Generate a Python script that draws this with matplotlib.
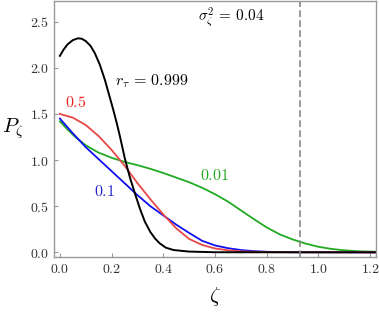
import numpy as np
import matplotlib
matplotlib.use('Agg')
import matplotlib.pyplot as plt

plt.rcParams['mathtext.fontset'] = 'cm'
plt.rcParams['font.family'] = 'DejaVu Serif'

# curves (zeta, P_zeta)
zeta_black = [0, 0.015, 0.03, 0.05, 0.07, 0.085, 0.1, 0.118, 0.135, 0.155, 0.174, 0.193,
              0.206, 0.22, 0.232, 0.251, 0.27, 0.29, 0.31, 0.329, 0.35, 0.368, 0.385,
              0.41, 0.44, 0.5, 0.6, 1.25]
p_black = [2.13, 2.20, 2.255, 2.30, 2.32, 2.315, 2.29, 2.24, 2.16, 2.03, 1.87, 1.68,
           1.55, 1.40, 1.26, 1.02, 0.82, 0.64, 0.47, 0.33, 0.22, 0.15, 0.10,
           0.05, 0.025, 0.008, 0.001, 0]

zeta_red = [0, 0.05, 0.1, 0.15, 0.2, 0.25, 0.3, 0.35, 0.4, 0.45, 0.5, 0.55, 0.6, 0.65,
            0.7, 0.8, 1.25]
p_red = [1.50, 1.46, 1.38, 1.26, 1.11, 0.94, 0.75, 0.575, 0.41, 0.26, 0.145, 0.08, 0.042,
         0.022, 0.01, 0.002, 0]

zeta_blue = [0, 0.05, 0.1, 0.15, 0.2, 0.25, 0.3, 0.35, 0.4, 0.45, 0.5, 0.55, 0.6, 0.65,
             0.7, 0.75, 0.8, 0.9, 1.25]
p_blue = [1.45, 1.29, 1.14, 1.01, 0.88, 0.75, 0.62, 0.50, 0.40, 0.30, 0.21, 0.125, 0.075,
          0.045, 0.025, 0.013, 0.006, 0.001, 0]

zeta_green = [0, 0.03, 0.06, 0.1, 0.15, 0.2, 0.25, 0.3, 0.35, 0.4, 0.45, 0.5, 0.55, 0.6,
              0.65, 0.7, 0.75, 0.8, 0.85, 0.9, 0.95, 1.0, 1.05, 1.1, 1.15, 1.25]
p_green = [1.42, 1.33, 1.25, 1.16, 1.08, 1.025, 0.98, 0.945, 0.905, 0.86, 0.81, 0.76, 0.70,
           0.63, 0.55, 0.455, 0.36, 0.27, 0.195, 0.14, 0.095, 0.06, 0.037, 0.022, 0.012, 0.004]

sigma_line = 0.93
xticks = [0.0, 0.2, 0.4, 0.6, 0.8, 1.0, 1.2]
yticks = [0.0, 0.5, 1.0, 1.5, 2.0, 2.5]

fig = plt.figure(figsize=(3.79, 3.14), dpi=100)
ax = fig.add_axes([0.143, 0.182, 0.848, 0.815])

ax.plot(zeta_green, p_green, color='#22aa22', lw=1.3)
ax.plot(zeta_blue, p_blue, color='#1010ee', lw=1.3)
ax.plot(zeta_red, p_red, color='#e84848', lw=1.3)
ax.plot(zeta_black, p_black, color='black', lw=1.4)
ax.axvline(sigma_line, color='#888888', lw=1.2, ls=(0, (4, 2)))

ax.set_xlim(-0.022, 1.221)
ax.set_ylim(-0.049, 2.725)

ax.set_xticks(xticks)
ax.set_xticklabels([f'${v:.1f}$' for v in xticks])
ax.set_yticks(yticks)
ax.set_yticklabels([f'${v:.1f}$' for v in yticks])
ax.tick_params(direction='in', length=3, width=0.8, color='#999999',
               labelsize=10, labelcolor='#333333', top=False, right=False, pad=4)
for s in ax.spines.values():
    s.set_color('#999999')
    s.set_linewidth(1.0)

ax.set_xlabel(r'$\zeta$', fontsize=15, labelpad=6)
ax.set_ylabel(r'$P_\zeta$', fontsize=15, rotation=0, labelpad=12, va='center')

ax.text(0.213, 1.86, r'$r_\tau\,=\,0.999$', fontsize=11.5, color='black', va='center')
ax.text(0.019, 1.62, r'$0.5$', fontsize=11.5, color='#ee2222', va='center')
ax.text(0.132, 0.655, r'$0.1$', fontsize=11.5, color='#2222cc', va='center')
ax.text(0.542, 0.83, r'$0.01$', fontsize=11.5, color='#22aa22', va='center')
ax.text(0.534, 2.55, r'$\sigma_\zeta^2\,=\,0.04$', fontsize=11, color='black', va='center')

fig.savefig('out.png', dpi=100)
